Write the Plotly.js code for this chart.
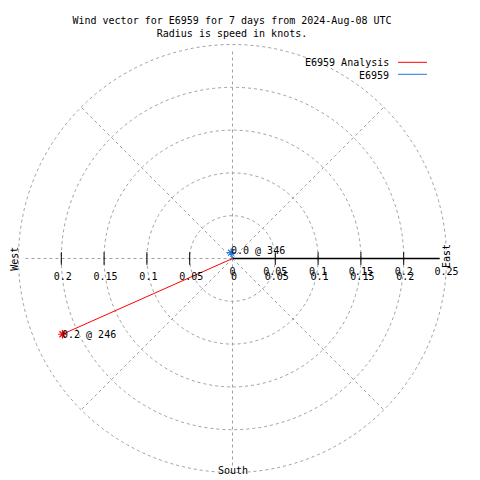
<!DOCTYPE html>
<html><head><meta charset="utf-8">
<script src="https://cdn.plot.ly/plotly-3.0.1.min.js"></script>
<style>html,body{margin:0;padding:0;background:#fff}</style>
</head><body><div id="chart" style="width:480px;height:480px"></div>
<script>
// ---- data ----
const seriesNames = ["E6959 Analysis", "E6959"];
const speeds = [0.2175, 0.007];        // knots
const directions = [246, 346];          // degrees, compass
const pointLabels = ["0.2 @ 246", "0.0 @ 346"];
const ringRadii = [0.05, 0.1, 0.15, 0.2, 0.25];
const spokeAngles = [0, 45, 90, 135, 180, 225, 270, 315];
const eastTickVals = [0, 0.05, 0.1, 0.15, 0.2, 0.25];
const eastTickText = ["0", "0.05", "0.1", "0.15", "0.2", "0.25"];
const fullTickVals = [-0.2, -0.15, -0.1, -0.05, 0, 0.05, 0.1, 0.15, 0.2];
const fullTickText = ["0.2", "0.15", "0.1", "0.05", "0", "0.05", "0.1", "0.15", "0.2"];
const axisTickVals = [-0.2, -0.15, -0.1, -0.05, 0.05, 0.1, 0.15, 0.2];
const compassNames = ["West", "East", "South"];
const compassAngles = [270, 90, 180];
const titleText = "Wind vector for E6959 for 7 days from 2024-Aug-08 UTC<br>Radius is speed in knots.";

// ---- styles / geometry ----
const colors = ["#ff0000", "#1f7ae8"];
const FONT = {family: "DejaVu Sans Mono, monospace", size: 10, color: "#000"};
const W = 480, H = 480;
const K = 856;            // px per knot
const CX = 232.5, CY = 258.5;
const xr = [-CX / K, (W - CX) / K];
const yr = [-(H - CY) / K, CY / K];
const gridStyle = {color: "#a0a0a0", width: 1, dash: "3px,3px"};
const pos = px => 1 - px / H;

function vx(r, a) { return r * Math.sin(a * Math.PI / 180); }
function vy(r, a) { return r * Math.cos(a * Math.PI / 180); }

const traces = [];
for (let i = 0; i < speeds.length; i++) {
  traces.push({
    type: "scatter", mode: "lines",
    x: [0, vx(speeds[i], directions[i])], y: [0, vy(speeds[i], directions[i])],
    line: {color: colors[i], width: 1}, showlegend: false, hoverinfo: "skip"
  });
}
for (let i = speeds.length - 1; i >= 0; i--) {
  traces.push({
    type: "scatter", mode: "markers",
    x: [vx(speeds[i], directions[i])], y: [vy(speeds[i], directions[i])],
    marker: {symbol: "asterisk-open", size: 7, color: colors[i], line: {color: colors[i], width: 1.2}},
    showlegend: false, hoverinfo: "skip"
  });
}
// tick marks on the horizontal axis
traces.push({
  type: "scatter", mode: "markers",
  x: axisTickVals, y: axisTickVals.map(() => 0),
  marker: {symbol: "line-ns-open", size: 9, color: "#000", line: {color: "#000", width: 1}},
  showlegend: false, hoverinfo: "skip"
});
// dummy trace to activate the overlay axis
traces.push({type: "scatter", x: [0], y: [0], xaxis: "x2", mode: "none", showlegend: false, hoverinfo: "skip"});

const shapes = [];
ringRadii.forEach(r => shapes.push({
  type: "circle", xref: "x", yref: "y", x0: -r, y0: -r, x1: r, y1: r,
  line: gridStyle, layer: "below"
}));
spokeAngles.forEach(a => {
  const len = (a % 90 === 0) ? 0.242 : 0.25;
  shapes.push({type: "line", xref: "x", yref: "y", x0: 0, y0: 0,
    x1: vx(len, a), y1: vy(len, a), line: gridStyle, layer: "below"});
});
shapes.push({type: "line", xref: "x", yref: "y", x0: 0, y0: 0, x1: 0.242, y1: 0,
  line: {color: "#000", width: 1.5}, layer: "below"});

const annotations = [];
// point labels
for (let i = 0; i < speeds.length; i++) {
  annotations.push({
    x: vx(speeds[i], directions[i]), y: vy(speeds[i], directions[i]),
    xref: "x", yref: "y", text: pointLabels[i], showarrow: false,
    xanchor: "left", yanchor: "middle", xshift: -2, yshift: i === 1 ? 2 : 0, font: FONT
  });
}
// compass labels
const compassR = {West: 0.255, East: 0.2506, South: 0.2475};
compassNames.forEach((n, i) => {
  const a = compassAngles[i];
  annotations.push({
    x: vx(compassR[n], a), y: vy(compassR[n], a) + (n === "East" ? 0.003 : 0),
    xref: "x", yref: "y", text: n, showarrow: false,
    textangle: n === "South" ? 0 : -90, xanchor: "center", yanchor: "middle", font: FONT
  });
});
// legend (text right-aligned, line to its right)
const legY = [63, 75];
seriesNames.forEach((n, i) => {
  annotations.push({x: 391 / W, y: pos(legY[i]), xref: "paper", yref: "paper",
    text: n, showarrow: false, xanchor: "right", yanchor: "middle", font: FONT});
  shapes.push({type: "line", xref: "paper", yref: "paper",
    x0: 398 / W, x1: 427 / W, y0: pos(legY[i] - 0.7), y1: pos(legY[i] - 0.7),
    line: {color: colors[i], width: 1}});
});

const labelAxis = (vals, text, p, range) => ({
  range: range, tickmode: "array", tickvals: vals, ticktext: text,
  anchor: "free", position: p, showgrid: false, zeroline: false, showline: false,
  ticks: "outside", ticklen: 0, tickcolor: "rgba(0,0,0,0)", tickfont: FONT, fixedrange: true
});
const shift = 1.5 / K;

const layout = {
  width: W, height: H,
  margin: {l: 0, r: 0, t: 0, b: 0, pad: 0},
  paper_bgcolor: "#fff", plot_bgcolor: "#fff",
  showlegend: false,
  title: {text: titleText, font: FONT, x: 232 / W, xanchor: "center", y: pos(24), yanchor: "top"},
  xaxis: labelAxis(eastTickVals, eastTickText, pos(CY + 3), xr),
  xaxis2: Object.assign(labelAxis(fullTickVals, fullTickText, pos(CY + 8), [xr[0] - shift, xr[1] - shift]), {overlaying: "x"}),
  yaxis: {range: yr, visible: false, fixedrange: true},
  shapes: shapes, annotations: annotations
};

Plotly.newPlot("chart", traces, layout, {staticPlot: true, displayModeBar: false});
</script></body></html>
